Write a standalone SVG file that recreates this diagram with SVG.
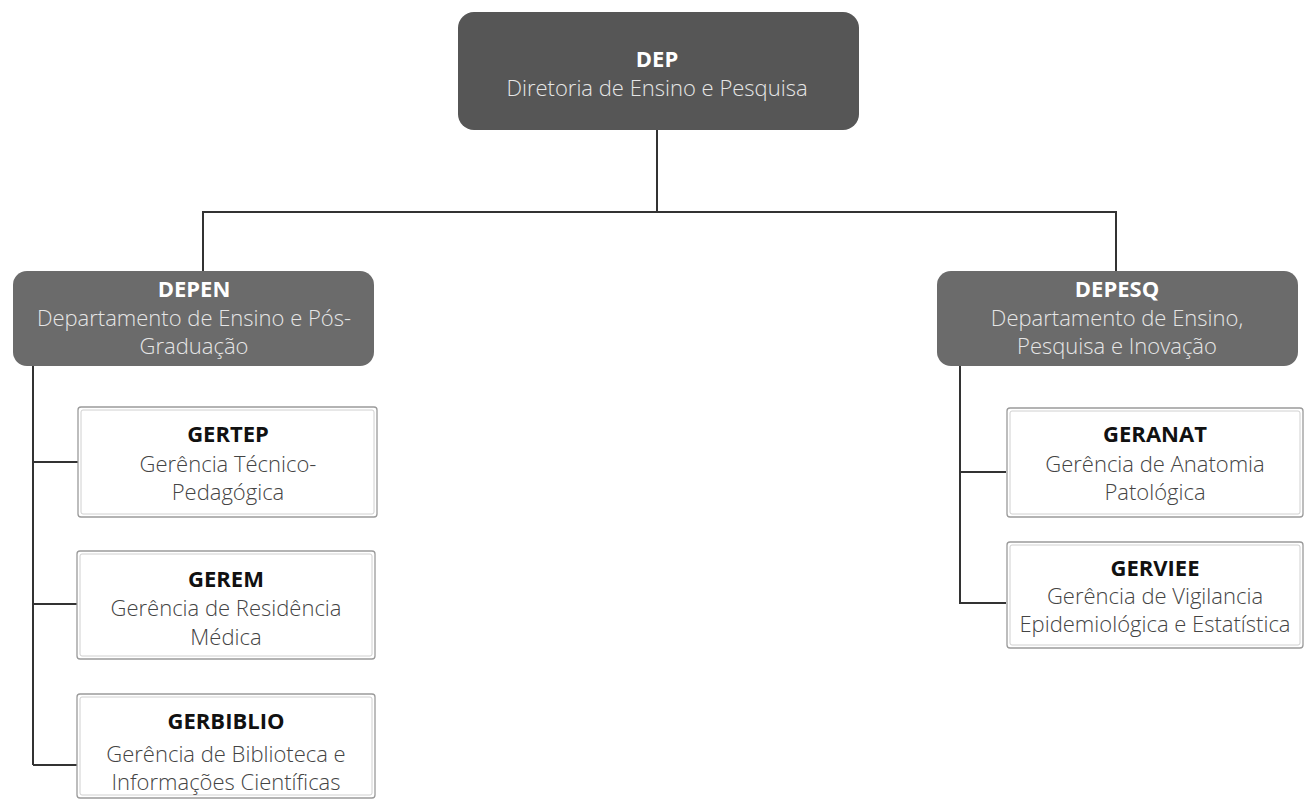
<svg xmlns="http://www.w3.org/2000/svg" width="1305" height="802" viewBox="0 0 1305 802">
<style>
.t{font-family:"Open Sans","Noto Sans","Liberation Sans",sans-serif;text-anchor:middle;font-size:22px}
.b{font-weight:700}
.l{font-weight:300}
.w{fill:#ffffff}
.wl{fill:#e6e6e6}
.k{fill:#111111}
.g{fill:#444444;font-weight:300}
.dark{fill:#565656}
.mid{fill:#6b6b6b}
.ob{fill:#ffffff;stroke:#9a9a9a;stroke-width:1.3}
.ib{fill:none;stroke:#d0d0d0;stroke-width:1}
.c{stroke:#333333;stroke-width:2;fill:none}
</style>
<rect width="1305" height="802" fill="#ffffff"/>
<g id="connectors">
<path class="c" d="M657 130V212M202 212H1117M203 212V271M1116 212V271"/>
<path class="c" d="M33 366V765M33 462H78M33 604H78M33 765H78"/>
<path class="c" d="M960 366V604M960 472H1006M960 603H1006"/>
</g>
<g id="DEP">
<rect class="dark" x="458" y="12" width="401" height="118" rx="16"/>
<text class="t b w" x="657" y="67">DEP</text>
<text class="t l wl" x="657" y="96">Diretoria de Ensino e Pesquisa</text>
</g>
<g id="DEPEN">
<rect class="mid" x="13" y="271" width="361" height="95" rx="14"/>
<text class="t b w" x="194" y="297">DEPEN</text>
<text class="t l wl" x="194" y="326">Departamento de Ensino e Pós-</text>
<text class="t l wl" x="194" y="354">Graduação</text>
</g>
<g id="DEPESQ">
<rect class="mid" x="937" y="271" width="361" height="95" rx="14"/>
<text class="t b w" x="1117" y="297">DEPESQ</text>
<text class="t l wl" x="1117" y="326">Departamento de Ensino,</text>
<text class="t l wl" x="1117" y="354">Pesquisa e Inovação</text>
</g>
<g id="GERTEP">
<rect class="ob" x="78" y="407" width="299" height="110" rx="3"/>
<rect class="ib" x="81" y="410" width="293" height="104" rx="2"/>
<text class="t b k" x="228" y="442">GERTEP</text>
<text class="t g" x="228" y="472">Gerência Técnico-</text>
<text class="t g" x="228" y="500">Pedagógica</text>
</g>
<g id="GEREM">
<rect class="ob" x="77" y="551" width="298" height="108" rx="3"/>
<rect class="ib" x="80" y="554" width="292" height="102" rx="2"/>
<text class="t b k" x="226" y="587">GEREM</text>
<text class="t g" x="226" y="616">Gerência de Residência</text>
<text class="t g" x="226" y="645">Médica</text>
</g>
<g id="GERBIBLIO">
<rect class="ob" x="77" y="694" width="298" height="104" rx="3"/>
<rect class="ib" x="80" y="697" width="292" height="98" rx="2"/>
<text class="t b k" x="226" y="729">GERBIBLIO</text>
<text class="t g" x="226" y="762">Gerência de Biblioteca e</text>
<text class="t g" x="226" y="790">Informações Científicas</text>
</g>
<g id="GERANAT">
<rect class="ob" x="1007" y="408" width="296" height="109" rx="3"/>
<rect class="ib" x="1010" y="411" width="290" height="103" rx="2"/>
<text class="t b k" x="1155" y="442">GERANAT</text>
<text class="t g" x="1155" y="472">Gerência de Anatomia</text>
<text class="t g" x="1155" y="500">Patológica</text>
</g>
<g id="GERVIEE">
<rect class="ob" x="1007" y="542" width="296" height="106" rx="3"/>
<rect class="ib" x="1010" y="545" width="290" height="100" rx="2"/>
<text class="t b k" x="1155" y="576">GERVIEE</text>
<text class="t g" x="1155" y="604">Gerência de Vigilancia</text>
<text class="t g" x="1155" y="632">Epidemiológica e Estatística</text>
</g>
</svg>
